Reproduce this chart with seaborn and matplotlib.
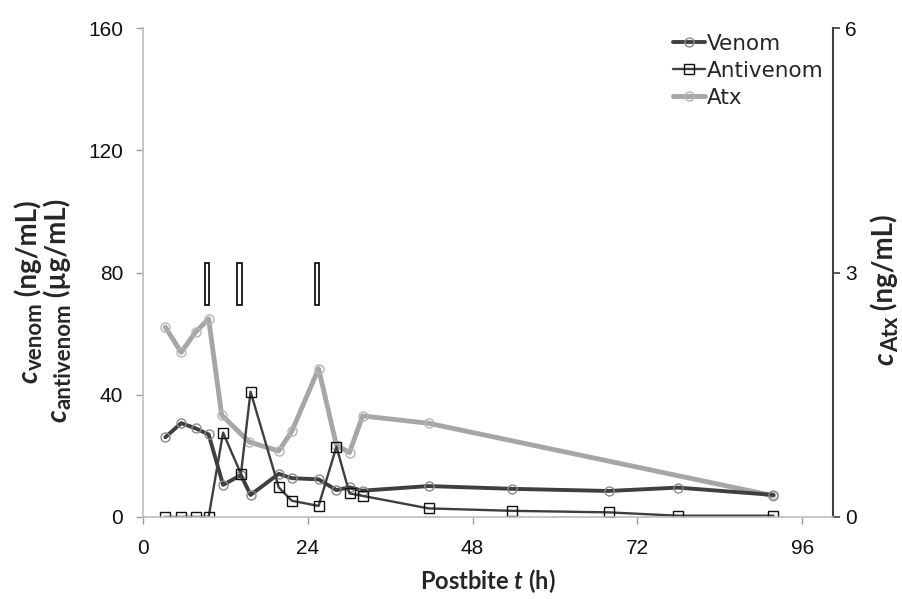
import matplotlib
matplotlib.use("Agg")
import matplotlib.pyplot as plt
import seaborn as sns
import pandas as pd

# sample times (h) and concentrations
venom_t = [3.3, 5.6, 7.7, 9.6, 11.7, 14.3, 15.7, 19.8, 21.7, 25.6, 28.2, 30.1, 32.0,
           41.6, 53.8, 67.8, 77.9, 91.8]
venom_c = [26.1, 30.7, 29.0, 27.0, 10.5, 13.7, 7.2, 14.1, 12.7, 12.3, 8.8, 9.7, 8.6,
           10.1, 9.2, 8.5, 9.6, 7.2]

anti_t = [3.3, 5.6, 7.7, 9.6, 11.7, 14.3, 15.7, 19.8, 21.7, 25.6, 28.2, 30.1, 32.0,
          41.6, 53.8, 67.8, 77.9, 91.8]
anti_c = [0, 0, 0, 0, 27.6, 14.1, 41.0, 9.7, 5.3, 3.6, 23.0, 7.7, 6.9,
          2.8, 2.0, 1.5, 0.4, 0.4]

atx_t = [3.3, 5.6, 7.7, 9.6, 11.5, 15.5, 19.8, 21.7, 25.6, 28.2, 30.1, 32.0, 41.6, 91.8]
atx_c = [2.33, 2.02, 2.27, 2.43, 1.25, 0.92, 0.81, 1.05, 1.82, 0.88, 0.79, 1.24, 1.15, 0.26]

# antivenom doses
dose_t = [9.35, 14.1, 25.4]
dose_lo = 69.4
dose_hi = 83.1

venom = pd.DataFrame({"t": venom_t, "c": venom_c})
anti = pd.DataFrame({"t": anti_t, "c": anti_c})
atx = pd.DataFrame({"t": atx_t, "c": atx_c})

sns.set_style("white")
plt.rcParams["font.family"] = ["Liberation Sans", "DejaVu Sans"]
plt.rcParams["mathtext.fontset"] = "custom"
plt.rcParams["mathtext.bf"] = "Lato:bold"
plt.rcParams["mathtext.bfit"] = "Lato:bold:italic"
plt.rcParams["mathtext.rm"] = "Lato"

W, H = 903, 599
fig = plt.figure(figsize=(W / 100, H / 100), dpi=100)
ax = fig.add_axes([0.158, 0.137, 0.764, 0.816])
ax2 = ax.twinx()

dark = "#3f3f3f"
light = "#a6a6a6"

sns.lineplot(data=atx, x="t", y="c", ax=ax2, color=light, lw=3.5, marker="o",
             markersize=6.5, markerfacecolor="none", markeredgecolor="#b5b5b5",
             markeredgewidth=1.0, label="Atx", legend=False)
sns.lineplot(data=venom, x="t", y="c", ax=ax, color=dark, lw=2.8, marker="o",
             markersize=6.5, markerfacecolor="none", markeredgecolor="#8a8a8a",
             markeredgewidth=1.0, label="Venom", legend=False)
sns.lineplot(data=anti, x="t", y="c", ax=ax, color=dark, lw=1.7, marker="s",
             markersize=7.5, markerfacecolor="none", markeredgecolor="#111111",
             markeredgewidth=1.0, label="Antivenom", legend=False)

ax.bar(dose_t, dose_hi - dose_lo, bottom=dose_lo, width=0.6, facecolor="white",
       edgecolor="black", linewidth=1.2)

ax.set_zorder(ax2.get_zorder() + 1)
ax.patch.set_visible(False)

ax.set_xlim(0, 100.4)
ax.set_ylim(0, 160)
ax2.set_ylim(0, 6)
ax.set_xticks([0, 24, 48, 72, 96])
ax.set_yticks([0, 40, 80, 120, 160])
ax2.set_yticks([0, 3, 6])

ax.set_xlabel("")
ax.set_ylabel("")
ax2.set_xlabel("")
ax2.set_ylabel("")

ax.spines["top"].set_visible(False)
ax2.spines["top"].set_visible(False)
ax.spines["right"].set_visible(False)
ax2.spines["left"].set_visible(False)
ax2.spines["bottom"].set_visible(False)
ax.spines["left"].set_color("#bcbcbc")
ax.spines["bottom"].set_color("#bcbcbc")
ax.spines["left"].set_linewidth(1.2)
ax.spines["bottom"].set_linewidth(1.2)
ax2.spines["right"].set_color("#404040")
ax2.spines["right"].set_linewidth(1.5)

ax.tick_params(axis="both", direction="out", length=5, width=1, color="#9a9a9a",
               labelsize=15, labelcolor="#111111", left=True, bottom=True)
ax.tick_params(axis="x", pad=11)
ax.tick_params(axis="y", pad=9)
ax2.tick_params(axis="y", direction="out", length=5, width=1.2, color="#404040",
                labelsize=15, labelcolor="#111111", right=True, pad=4)

handles = ax.get_lines()[:2] + ax2.get_lines()[:1]
ax.legend(handles, ["Venom", "Antivenom", "Atx"], loc="upper right",
          bbox_to_anchor=(0.922, 0.958), bbox_transform=fig.transFigure,
          frameon=False, prop={"family": "DejaVu Sans", "size": 15.5},
          handlelength=1.5, handletextpad=0.1, labelspacing=0.33, borderaxespad=0)


# rotated axis titles built piece by piece so the subscripts stay large
def vlabel(x_px, y_px, pieces):
    renderer = fig.canvas.get_renderer()
    y = y_px
    for text, size, style, shift in pieces:
        t = fig.text((x_px + shift) / W, 1 - y / H, text, rotation=90,
                     rotation_mode="anchor", ha="left", va="baseline",
                     fontsize=size, family="Lato", fontweight="bold", style=style)
        y -= t.get_window_extent(renderer).height


vlabel(37, 383, [("c", 20, "italic", 0), ("venom", 16, "normal", 5),
                 (" (ng/mL)", 20, "normal", 0)])
vlabel(66, 422, [("c", 20, "italic", 0), ("antivenom", 16, "normal", 5),
                 (" (µg/mL)", 20, "normal", 0)])
vlabel(893, 365, [("c", 20, "italic", 0), ("Atx", 16, "normal", 5),
                  (" (ng/mL)", 20, "normal", 0)])

fig.text(0.54, 0.030, r"Postbite $\mathbfit{t}$ (h)", ha="center", va="center",
         fontsize=17, family="Lato", fontweight="bold")

fig.savefig("out.png", dpi=100)
